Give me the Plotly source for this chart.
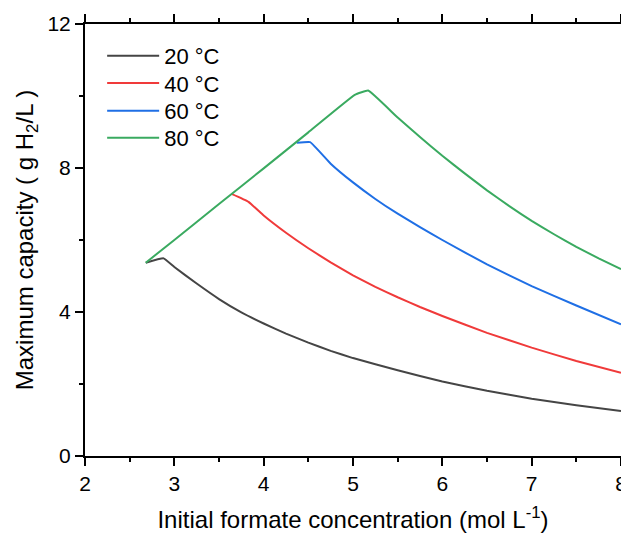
import plotly.graph_objects as go

# 20 °C
x20 = [2.68, 2.88, 3.0, 3.25, 3.5, 3.75, 4.0, 4.25, 4.5, 4.75, 5.0, 5.5, 6.0, 6.5, 7.0, 7.5, 8.0]
y20 = [5.37, 5.49, 5.25, 4.79, 4.36, 3.99, 3.68, 3.40, 3.15, 2.92, 2.72, 2.38, 2.07, 1.81, 1.59, 1.41, 1.25]
# 40 °C
x40 = [3.64, 3.83, 4.0, 4.25, 4.5, 4.75, 5.0, 5.25, 5.5, 5.75, 6.0, 6.5, 7.0, 7.5, 8.0]
y40 = [7.28, 7.06, 6.68, 6.20, 5.77, 5.38, 5.02, 4.70, 4.41, 4.14, 3.89, 3.42, 3.01, 2.64, 2.31]
# 60 °C
x60 = [4.37, 4.52, 4.75, 5.0, 5.25, 5.5, 5.75, 6.0, 6.5, 7.0, 7.5, 8.0]
y60 = [8.70, 8.72, 8.12, 7.60, 7.14, 6.73, 6.36, 6.00, 5.32, 4.72, 4.18, 3.66]
# 80 °C
x80 = [2.68, 3.0, 3.5, 4.0, 4.5, 5.02, 5.17, 5.5, 5.75, 6.0, 6.25, 6.5, 6.75, 7.0, 7.25, 7.5, 7.75, 8.0]
y80 = [5.37, 6.00, 7.00, 7.99, 8.99, 10.03, 10.15, 9.40, 8.86, 8.34, 7.85, 7.38, 6.94, 6.53, 6.16, 5.81, 5.49, 5.19]

names = ["20 °C", "40 °C", "60 °C", "80 °C"]
colors = ["#454545", "#f03a3a", "#1f6fe5", "#3aaa60"]
series = [(x20, y20), (x40, y40), (x60, y60), (x80, y80)]
legend_ids = ["legend", "legend2", "legend3", "legend4"]
legend_y = [0.926, 0.863, 0.799, 0.736]

font = "Liberation Sans, Arial, sans-serif"

fig = go.Figure()
for (xs, ys), n, c, lg in zip(series, names, colors, legend_ids):
    fig.add_trace(go.Scatter(x=xs, y=ys, mode="lines", name=n, legend=lg,
                             line=dict(color=c, width=2, shape="spline", smoothing=0.3)))

axis_common = dict(
    showline=True, linecolor="black", linewidth=2, mirror="ticks",
    ticks="outside", ticklen=8, tickwidth=2, tickcolor="black",
    showgrid=False, zeroline=False, automargin=False,
    tickfont=dict(family=font, size=21, color="black"),
)

fig.update_xaxes(range=[2, 8], dtick=1, tick0=2,
                 minor=dict(dtick=0.5, ticklen=4, tickwidth=2, tickcolor="black", ticks="outside"),
                 title=dict(text="Initial formate concentration (mol L<sup>-1</sup>)",
                            font=dict(family=font, size=24, color="black"), standoff=21),
                 **axis_common)
fig.update_yaxes(range=[0, 12], dtick=4, tick0=0,
                 minor=dict(dtick=2, ticklen=4, tickwidth=2, tickcolor="black", ticks="outside"),
                 title=dict(text="Maximum capacity ( g H<sub>2</sub>/L )",
                            font=dict(family=font, size=24, color="black"), standoff=7),
                 **axis_common)

legend_style = dict(x=0.032, xanchor="left", yanchor="middle",
                    font=dict(family=font, size=22, color="black"),
                    bgcolor="rgba(0,0,0,0)", itemwidth=52)
layout_legends = {lg: dict(y=ly, **legend_style) for lg, ly in zip(legend_ids, legend_y)}

fig.update_layout(
    width=621, height=525,
    margin=dict(l=77, r=8, t=16, b=77),
    plot_bgcolor="white", paper_bgcolor="white",
    showlegend=True,
    **layout_legends,
)

fig.write_html("out.html")
